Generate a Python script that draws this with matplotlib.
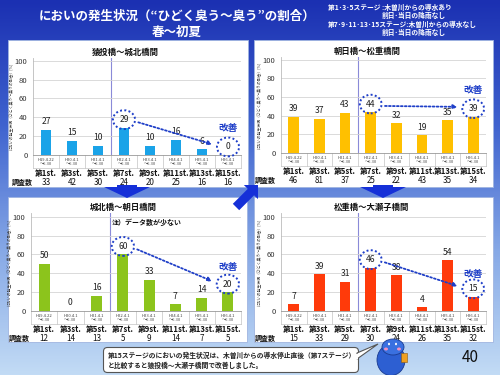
import numpy as np
import matplotlib.pyplot as plt
import matplotlib.colors as mcolors
from matplotlib.patches import Rectangle, Ellipse, FancyArrow, FancyBboxPatch, Polygon

plt.rcParams['font.family'] = ['Noto Sans CJK JP', 'DejaVu Sans']

W, H = 500, 375

# data
periods = ['H19.4.22\n〜6.30', 'H20.4.1\n〜6.30', 'H21.4.1\n〜6.30', 'H22.4.1\n〜6.30',
           'H23.4.1\n〜6.30', 'H24.4.1\n〜6.30', 'H25.4.1\n〜6.30', 'H26.4.1\n〜6.30']
stages = ['第1st.', '第3st.', '第5st.', '第7st.', '第9st.', '第11st.', '第13st.', '第15st.']

sanage_vals = [27, 15, 10, 29, 10, 16, 6, 0]
sanage_n = [33, 42, 30, 24, 20, 25, 16, 16]
asahi_vals = [39, 37, 43, 44, 32, 19, 35, 39]
asahi_n = [46, 81, 37, 25, 22, 43, 35, 34]
johoku_vals = [50, 0, 16, 60, 33, 7, 14, 20]
johoku_n = [12, 14, 13, 5, 9, 14, 7, 5]
matsushige_vals = [7, 39, 31, 46, 38, 4, 54, 15]
matsushige_n = [15, 33, 29, 30, 24, 26, 35, 32]

ylabel = 'においの発生状況（ひどく臭う〜臭うの割合）[%]'
BLUE = '#1f3fc8'


def rect(x, y, w, h):
    return [x / W, 1 - (y + h) / H, w / W, h / H]


fig = plt.figure(figsize=(5, 3.75), dpi=100)

# background gradient + white panels
bg = fig.add_axes([0, 0, 1, 1], zorder=0)
bg.set_xlim(0, W)
bg.set_ylim(H, 0)
bg.axis('off')
cmap = mcolors.LinearSegmentedColormap.from_list(
    'bg', ['#1b30b2', '#3f63cf', '#86a8e6', '#c2dbf5'])
grad = np.linspace(0, 1, 200).reshape(-1, 1)
bg.imshow(grad, cmap=cmap, extent=[0, W, H, 0], aspect='auto')
for px, py, pw, ph in [(8, 40, 240, 147), (254, 40, 239, 147),
                       (8, 197, 239, 145), (254, 197, 239, 145)]:
    bg.add_patch(Rectangle((px, py), pw, ph, facecolor='white',
                           edgecolor='#9fb4e0', lw=0.6))

fig.text(177 / W, 1 - 16 / H, 'においの発生状況（“ひどく臭う〜臭う”の割合）',
         color='white', fontsize=9, fontweight='bold', ha='center', va='center')
fig.text(177 / W, 1 - 32 / H, '春〜初夏', color='white', fontsize=9,
         fontweight='bold', ha='center', va='center')
notes = [(328, 7, '第1･3･5ステージ :木曽川からの導水あり'),
         (382, 15, '前日･当日の降雨なし'),
         (328, 24, '第7･9･11･13･15ステージ:木曽川からの導水なし'),
         (382, 32, '前日･当日の降雨なし')]
for nx, ny, t in notes:
    fig.text(nx / W, 1 - ny / H, t, color='white', fontsize=4.9,
             fontweight='bold', ha='left', va='center')


def panel(ax_px, title, title_x, vals, ns, color, ymax, kaizen_dy, n_x):
    x0, y0, x1, y1 = ax_px
    ax = fig.add_axes(rect(x0, y0, x1 - x0, y1 - y0), zorder=2)
    ax.patch.set_alpha(0)
    hpx = y1 - y0
    x = np.arange(len(vals))
    ax.bar(x, vals, width=0.42, color=color, zorder=3)
    ax.set_xlim(-0.5, len(vals) - 0.5)
    ax.set_ylim(0, ymax)
    ax.set_yticks(range(0, 101, 20))
    ax.tick_params(axis='y', labelsize=5.5, length=0, pad=4, colors='#333333')
    ax.set_xticks([])
    ax.grid(axis='y', color='#d4d4d4', lw=0.6, zorder=0)
    for s in ['top', 'right']:
        ax.spines[s].set_visible(False)
    ax.spines['left'].set_color('#bbbbbb')
    ax.spines['left'].set_linewidth(0.6)
    ax.spines['bottom'].set_color('#999999')
    ax.spines['bottom'].set_linewidth(0.6)
    # stage 5 / stage 7 divider
    ax.axvline(2.5, color='#8a8ad8', lw=0.8, zorder=1)

    for i, v in enumerate(vals):
        ax.text(i, v + 8.5, str(v), ha='center', va='center', fontsize=6.2,
                color='#222222', zorder=5)

    tr = ax.get_xaxis_transform()
    cell = 13 / hpx
    for b in np.arange(-0.5, len(vals)):
        ax.plot([b, b], [0, -cell], transform=tr, color='#c4c4c4', lw=0.5,
                clip_on=False)
    ax.plot([-0.5, len(vals) - 0.5], [-cell, -cell], transform=tr,
            color='#c4c4c4', lw=0.5, clip_on=False)
    for i in range(len(vals)):
        ax.text(i, -7 / hpx, periods[i], transform=tr, ha='center', va='center',
                fontsize=3, color='#444444', linespacing=1.1)
        ax.text(i, -18.5 / hpx, stages[i], transform=tr, ha='center', va='center',
                fontsize=5.6, fontweight='bold', color='#111111')
        ax.text(i, -27.5 / hpx, str(ns[i]), transform=tr, ha='center', va='center',
                fontsize=5.8, color='#111111')

    fig.text(n_x / W, 1 - (y1 + 27.5) / H, '調査数', fontsize=5, fontweight='bold',
             ha='center', va='center', color='#111111')
    fig.text((x0 - 21) / W, 1 - ((y0 + y1) / 2) / H, ylabel,
             rotation=90, fontsize=2.8, ha='center', va='center', color='#333333')
    fig.text(title_x / W, 1 - (y0 - 6) / H, title, fontsize=6, fontweight='bold',
             ha='center', va='center', color='#111111')

    # improvement marks: stage 7 -> stage 15
    c7 = vals[3] + 8.5
    c15 = vals[7] + 8.5
    for cx, cy in [(3, c7), (7, c15)]:
        ax.add_patch(Ellipse((cx, cy), 0.85, 20, fill=False, edgecolor=BLUE,
                             lw=1.4, ls=(0, (1, 1.2)), zorder=6, clip_on=False))
    ax.annotate('', xy=(6.5, c15 + 2), xytext=(3.45, c7 - 2),
                arrowprops=dict(arrowstyle='-|>', color=BLUE, lw=1.3,
                                ls=(0, (1, 1.2)), mutation_scale=6),
                zorder=6)
    ax.text(7, c15 + kaizen_dy, '改善', ha='center', va='center', fontsize=7,
            fontweight='bold', color=BLUE, zorder=6)
    return ax


panel((33, 58, 241, 155), '猿投橋〜城北橋間', 125, sanage_vals, sanage_n,
      '#1aa3e8', 103, 20, 22)
panel((281, 57, 486, 153), '朝日橋〜松重橋間', 367, asahi_vals, asahi_n,
      '#ffc000', 103, 20, 265)
panel((31, 213, 241, 311), '城北橋〜朝日橋間', 123, johoku_vals, johoku_n,
      '#8cc41c', 104, 18, 19)
panel((281, 213, 486, 311), '松重橋〜大瀬子橋間', 372, matsushige_vals,
      matsushige_n, '#ff3a0a', 104, 16, 265)
fig.text(112 / W, 1 - 222 / H, '注）データ数が少ない', fontsize=5, fontweight='bold',
         ha='left', va='center', color='#111111', zorder=7)

# overlay: flow arrows, callout, mascot, page number
ov = fig.add_axes([0, 0, 1, 1], zorder=10)
ov.set_xlim(0, W)
ov.set_ylim(H, 0)
ov.axis('off')
ov.patch.set_alpha(0)
for ax_x in [127, 383]:
    ov.add_patch(FancyArrow(ax_x, 185, 0, 13, width=20, head_width=46,
                            head_length=11, length_includes_head=True,
                            color='#1530d8', lw=0))
ov.add_patch(FancyArrow(236, 207, 22, -22, width=9, head_width=20,
                        head_length=10, length_includes_head=True,
                        color='#1530d8', lw=0))

ov.add_patch(FancyBboxPatch((105, 349), 252, 22,
                            boxstyle='round,pad=1.5,rounding_size=4',
                            facecolor='white', edgecolor='#555555', lw=0.8))
ov.add_patch(Polygon([(357, 353), (378, 344), (357, 359)], closed=True,
                     facecolor='white', edgecolor='#555555', lw=0.8))
ov.add_patch(Rectangle((355, 353.5), 3, 5, facecolor='white', lw=0))
ov.text(108, 355, '第15ステージのにおいの発生状況は、木曽川からの導水停止直後（第7ステージ）',
        fontsize=4.9, fontweight='bold', color='#222222', va='center')
ov.text(108, 365, 'と比較すると猿投橋〜大瀬子橋間で改善しました。',
        fontsize=4.9, fontweight='bold', color='#222222', va='center')

# mascot
ov.add_patch(Ellipse((391, 360), 28, 31, facecolor='#2d5fd2', edgecolor='#1a3a90', lw=0.6))
ov.add_patch(Ellipse((393, 347), 22, 16, facecolor='#3a70e0', edgecolor='#1a3a90', lw=0.6))
ov.add_patch(Ellipse((386, 349), 4, 3, facecolor='#f28fc0', lw=0))
ov.add_patch(Ellipse((399, 349), 4, 3, facecolor='#f28fc0', lw=0))
ov.add_patch(Ellipse((389, 344), 2, 2.5, facecolor='white', lw=0))
ov.add_patch(Ellipse((396, 344), 2, 2.5, facecolor='white', lw=0))
ov.add_patch(Rectangle((401, 353), 6, 9, facecolor='#f0a020', edgecolor='#8a5a10', lw=0.4))

ov.text(470, 357, '40', fontsize=11, color='#111111', ha='center', va='center')

fig.savefig('out.png', dpi=100)
